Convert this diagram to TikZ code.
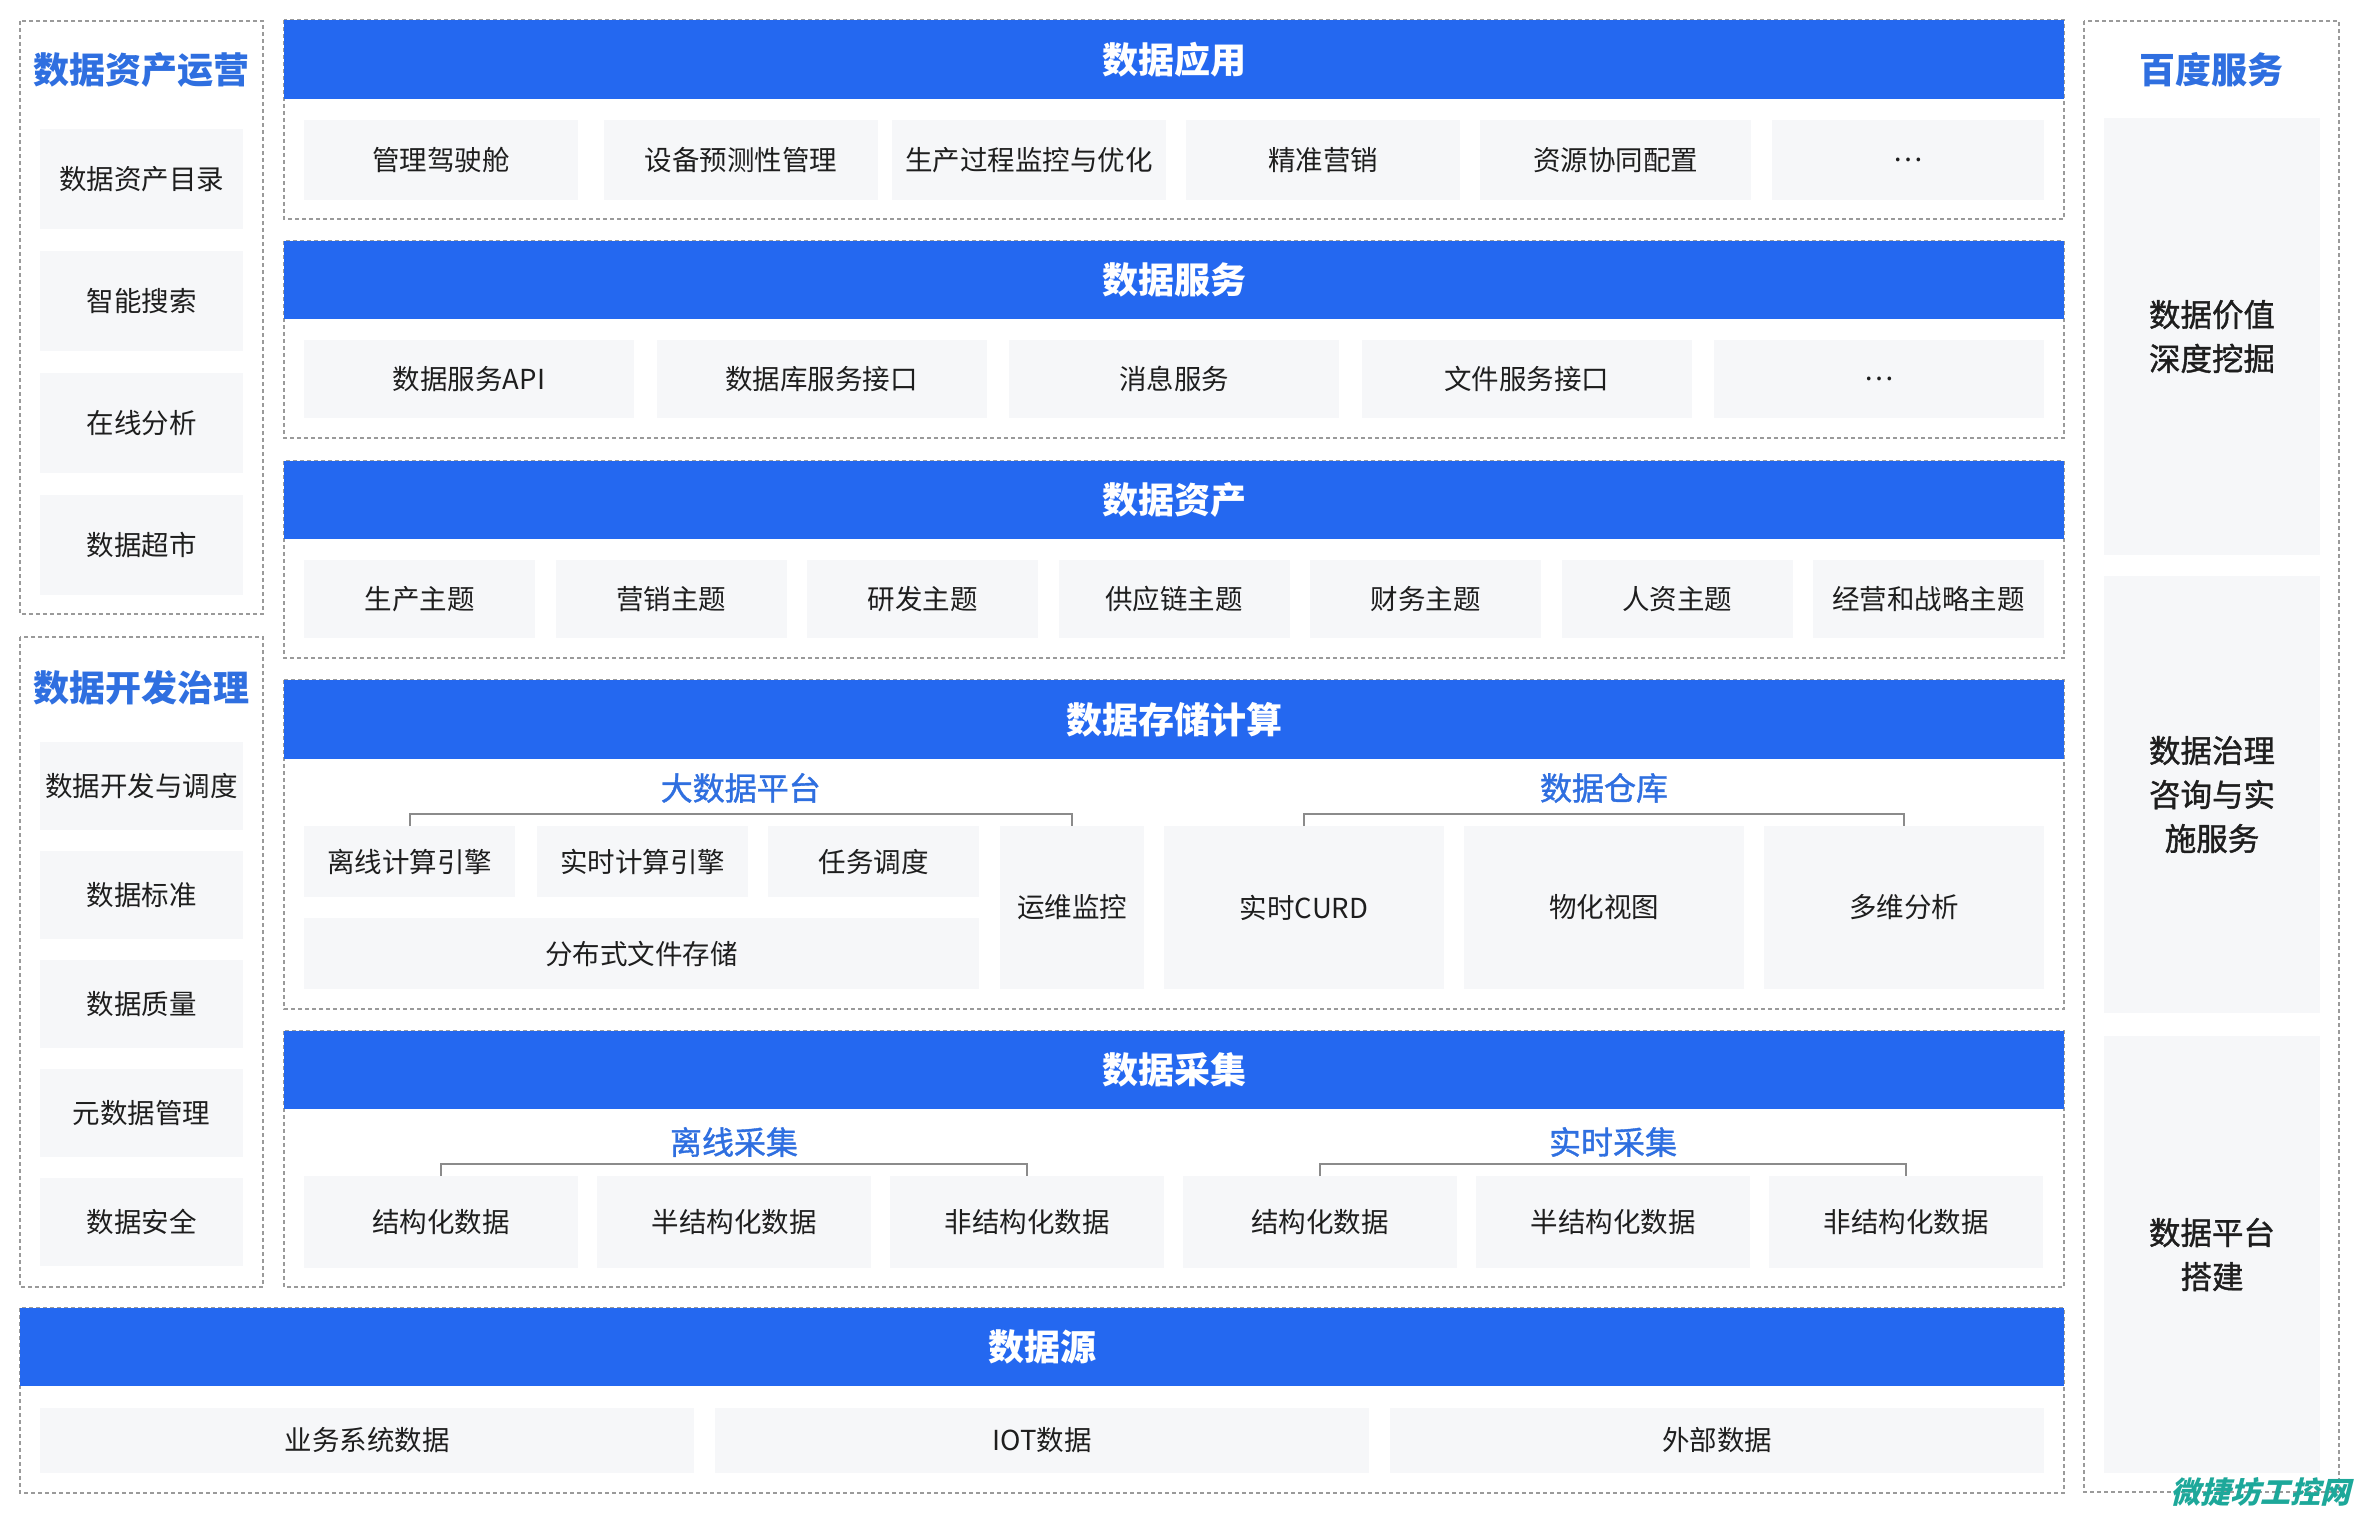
\documentclass[tikz,border=0pt]{standalone}
\usepackage{fontspec}
\setmainfont{Noto Sans CJK SC}
\newfontfamily\medfont{Noto Sans CJK SC}[FakeBold=1.2]
\usetikzlibrary{calc}
\definecolor{barblue}{HTML}{2468F0}
\definecolor{subblue}{HTML}{2F6FE0}
\definecolor{itemgray}{HTML}{F6F7F9}
\definecolor{dashgray}{HTML}{9A9A9A}
\definecolor{txt}{HTML}{1E1E1E}
\definecolor{wmark}{HTML}{1DA89A}
\tikzset{
  frame/.style={draw=dashgray, dash pattern=on 4pt off 3pt, line width=1.5pt},
  bar/.style={fill=barblue, text=white, font=\bfseries\fontsize{36}{42}\selectfont, inner sep=0pt, outer sep=0pt, anchor=north west},
  item/.style={fill=itemgray, text=txt, font=\fontsize{27.5}{33}\selectfont, inner sep=0pt, outer sep=0pt, anchor=north west},
  ritem/.style={fill=itemgray, text=txt, font=\medfont\fontsize{31.5}{44}\selectfont, inner sep=0pt, outer sep=0pt, anchor=north west, align=center},
  coltitle/.style={text=subblue, font=\bfseries\fontsize{36}{42}\selectfont, inner sep=0pt},
  subtitle/.style={text=subblue, font=\medfont\fontsize{32}{38}\selectfont, inner sep=0pt},
  bracket/.style={draw=dashgray!90!black, line width=2pt},
}
\begin{document}
\begin{tikzpicture}[x=1pt,y=-1pt]
\useasboundingbox[fill=white] (0,0) rectangle (2360,1514);

% ---------- dashed frames ----------
\draw[frame] (284,20) rectangle (2064,219);
\draw[frame] (284,241) rectangle (2064,438);
\draw[frame] (284,461) rectangle (2064,658);
\draw[frame] (284,680) rectangle (2064,1009);
\draw[frame] (284,1031) rectangle (2064,1287);
\draw[frame] (20,1308) rectangle (2064,1493);
\draw[frame] (20,21) rectangle (263,614);
\draw[frame] (20,637) rectangle (263,1287);
\draw[frame] (2084,21) rectangle (2339,1492);

% ---------- blue bars ----------
\node[bar, minimum width=1780pt, minimum height=79pt] (b1) at (284,20) {数据应用};
\node[bar, minimum width=1780pt, minimum height=78pt] (b2) at (284,241) {数据服务};
\node[bar, minimum width=1780pt, minimum height=78pt] (b3) at (284,461) {数据资产};
\node[bar, minimum width=1780pt, minimum height=79pt] (b4) at (284,680) {数据存储计算};
\node[bar, minimum width=1780pt, minimum height=78pt] (b5) at (284,1031) {数据采集};
\node[bar, minimum width=2044pt, minimum height=78pt] (b6) at (20,1308) {数据源};

% ---------- section 1 ----------
\foreach \t/\x/\w [count=\i] in {管理驾驶舱/304/274,设备预测性管理/604/274,生产过程监控与优化/892/274,精准营销/1186/274,资源协同配置/1480/271,…/1772/272}
  \node[item, minimum width=\w pt, minimum height=80pt] (a\i) at (\x,120) {\t};

% ---------- section 2 ----------
\foreach \t [count=\i] in {数据服务API,数据库服务接口,消息服务,文件服务接口,…}
  \node[item, minimum width=330pt, minimum height=78pt] (s\i) at ({304+(\i-1)*352.5},340) {\t};

% ---------- section 3 ----------
\foreach \t [count=\i] in {生产主题,营销主题,研发主题,供应链主题,财务主题,人资主题,经营和战略主题}
  \node[item, minimum width=231pt, minimum height=78pt] (z\i) at ({304+(\i-1)*251.5},560) {\t};

% ---------- section 4 ----------
\node[item, minimum width=211pt, minimum height=71pt] (c1) at (304,826) {离线计算引擎};
\node[item, minimum width=211pt, minimum height=71pt] (c2) at (537,826) {实时计算引擎};
\node[item, minimum width=211pt, minimum height=71pt] (c3) at (768,826) {任务调度};
\node[item, minimum width=675pt, minimum height=71pt] (c4) at (304,918) {分布式文件存储};
\node[item, minimum width=144pt, minimum height=163pt] (c5) at (1000,826) {运维监控};
\node[item, minimum width=280pt, minimum height=163pt] (w1) at (1164,826) {实时CURD};
\node[item, minimum width=280pt, minimum height=163pt] (w2) at (1464,826) {物化视图};
\node[item, minimum width=280pt, minimum height=163pt] (w3) at (1764,826) {多维分析};
\draw[bracket] (c1.north) -- ++(0,-12) coordinate (cb1) -| (c5.north);
\draw[bracket] (w1.north) -- ++(0,-12) coordinate (wb1) -| (w3.north);
\node[subtitle] (p1) at ($(c1.north)!0.5!(c5.north)+(0,-38)$) {大数据平台};
\node[subtitle] (p2) at ($(w1.north)!0.5!(w3.north)+(0,-38)$) {数据仓库};

% ---------- section 5 ----------
\foreach \t [count=\i] in {结构化数据,半结构化数据,非结构化数据,结构化数据,半结构化数据,非结构化数据}
  \node[item, minimum width=274pt, minimum height=92pt] (g\i) at ({304+(\i-1)*293},1176) {\t};
\draw[bracket] (g1.north) -- ++(0,-12) -| (g3.north);
\draw[bracket] (g4.north) -- ++(0,-12) -| (g6.north);
\node[subtitle] (q1) at ($(g1.north)!0.5!(g3.north)+(0,-34)$) {离线采集};
\node[subtitle] (q2) at ($(g4.north)!0.5!(g6.north)+(0,-34)$) {实时采集};

% ---------- section 6 ----------
\foreach \t [count=\i] in {业务系统数据,IOT数据,外部数据}
  \node[item, minimum width=654pt, minimum height=65pt] (d\i) at ({40+(\i-1)*675},1408) {\t};

% ---------- left column 1 ----------
\node[coltitle] (lt1) at (141.5,70) {数据资产运营};
\foreach \t [count=\i] in {数据资产目录,智能搜索,在线分析,数据超市}
  \node[item, minimum width=203pt, minimum height=100pt] (l\i) at (40,{129+(\i-1)*122}) {\t};

% ---------- left column 2 ----------
\node[coltitle] (lt2) at (141.5,688) {数据开发治理};
\foreach \t [count=\i] in {数据开发与调度,数据标准,数据质量,元数据管理,数据安全}
  \node[item, minimum width=203pt, minimum height=88pt] (m\i) at (40,{742+(\i-1)*109}) {\t};

% ---------- right column ----------
\node[coltitle] (rt) at (2211.5,70) {百度服务};
\node[ritem, minimum width=216pt, minimum height=437pt] (r1) at (2104,118) {数据价值\\深度挖掘};
\node[ritem, minimum width=216pt, minimum height=437pt] (r2) at (2104,576) {数据治理\\咨询与实\\施服务};
\node[ritem, minimum width=216pt, minimum height=437pt] (r3) at (2104,1036) {数据平台\\搭建};

% ---------- watermark ----------
\node[text=wmark, font=\bfseries\fontsize{30}{30}\selectfont, inner sep=0pt, xslant=0.25, anchor=east] (wm) at (2354,1492) {微捷坊工控网};
\end{tikzpicture}
\end{document}
